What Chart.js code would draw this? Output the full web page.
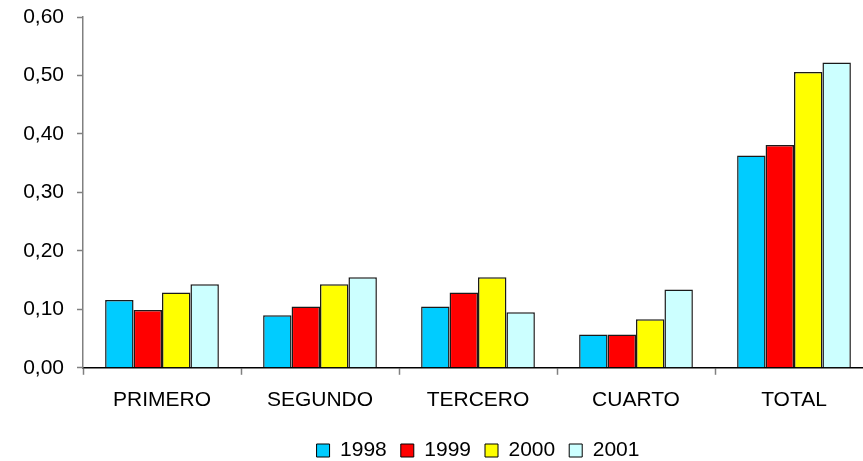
<!DOCTYPE html>
<html>
<head>
<meta charset="utf-8">
<script src="https://cdn.jsdelivr.net/npm/chart.js@4"></script>
<style>
  html, body { margin: 0; padding: 0; background: #fff; overflow: hidden; }
  #wrap { width: 863px; height: 461px; overflow: hidden; }
</style>
</head>
<body>
<div id="wrap">
  <canvas id="chart" width="873" height="461"></canvas>
</div>
<script>
const categories = ['PRIMERO', 'SEGUNDO', 'TERCERO', 'CUARTO', 'TOTAL'];
const years = ['1998', '1999', '2000', '2001'];
const values1998 = [0.116, 0.090, 0.105, 0.057, 0.363];
const values1999 = [0.099, 0.105, 0.129, 0.057, 0.381];
const values2000 = [0.129, 0.143, 0.155, 0.083, 0.506];
const values2001 = [0.143, 0.155, 0.095, 0.134, 0.522];
const yTickLabels = ['0,00', '0,10', '0,20', '0,30', '0,40', '0,50', '0,60'];

const colors = ['#00ccff', '#ff0000', '#ffff00', '#ccffff'];
const series = [values1998, values1999, values2000, values2001];

const font = { family: '"Liberation Sans", Arial, sans-serif', size: 21 };

// shrink the legend box so it sits lower, like the original
const legendShift = {
  id: 'legendShift',
  beforeUpdate(chart) {
    const lg = chart.legend;
    if (lg && !lg._patched) {
      const fit = lg.fit;
      lg.fit = function () {
        fit.call(this);
        this.height -= 10;
      };
      lg._patched = true;
    }
  },
};

new Chart(document.getElementById('chart'), {
  type: 'bar',
  data: {
    labels: categories,
    datasets: years.map((y, i) => ({
      label: y,
      data: series[i],
      backgroundColor: colors[i],
      borderColor: '#1a1a1a',
      borderWidth: 1.5,
      categoryPercentage: 0.72,
      barPercentage: 1,
    })),
  },
  options: {
    responsive: false,
    animation: false,
    layout: { padding: { top: 17, left: 0, right: 0, bottom: 0 } },
    plugins: {
      tooltip: { enabled: false },
      legend: {
        position: 'bottom',
        fullSize: false,
        labels: {
          color: '#000',
          font: font,
          boxWidth: 13,
          boxHeight: 13,
          padding: 14,
          generateLabels: (chart) => chart.data.datasets.map((ds, i) => ({
            text: ds.label,
            fillStyle: ds.backgroundColor,
            strokeStyle: '#000',
            lineWidth: 1,
            datasetIndex: i,
          })),
        },
      },
    },
    scales: {
      x: {
        border: { color: '#000', width: 1.5 },
        grid: {
          drawOnChartArea: false,
          drawTicks: true,
          tickLength: 7,
          tickColor: '#808080',
          tickWidth: 1.5,
        },
        ticks: { color: '#000', font: font, padding: 13, maxRotation: 0 },
      },
      y: {
        min: 0,
        max: 0.6,
        border: { color: '#808080', width: 1.5 },
        grid: {
          drawOnChartArea: false,
          drawTicks: true,
          tickLength: 6,
          tickColor: '#808080',
          tickWidth: 1.5,
        },
        ticks: {
          stepSize: 0.1,
          color: '#000',
          font: font,
          padding: 13,
          callback: (v, i) => yTickLabels[i],
        },
        afterFit: (scale) => {
          scale.width = 83;
          scale.paddingTop = 0;
          scale.paddingBottom = 0;
        },
      },
    },
  },
  plugins: [legendShift],
});
</script>
</body>
</html>
